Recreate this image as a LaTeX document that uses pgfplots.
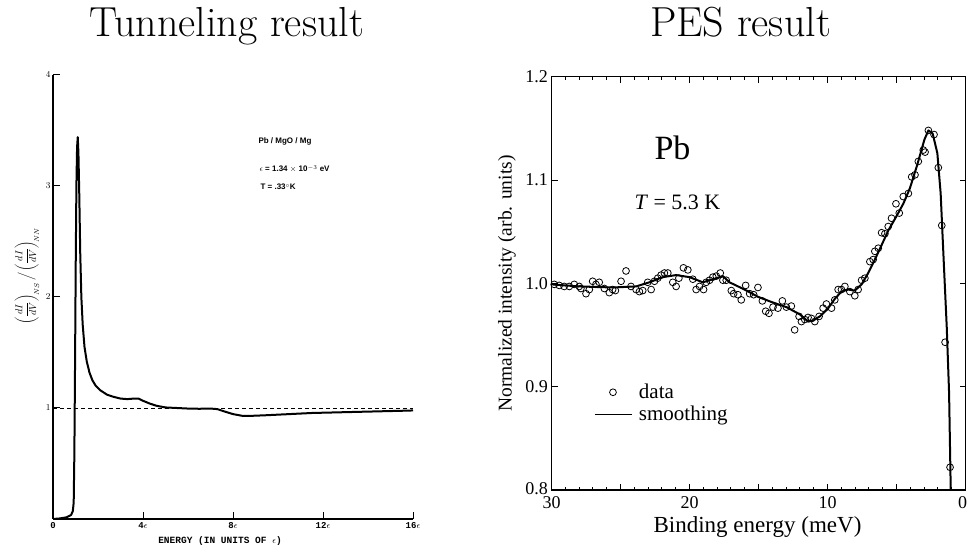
\documentclass[border=0pt]{standalone}
\usepackage{pgfplots}
\pgfplotsset{compat=1.18}
\usepackage{fontspec}
\newfontfamily\tms{Liberation Serif}
\newfontfamily\mono{Liberation Mono}
\newfontfamily\sans{Liberation Sans}
\pgfplotsset{
  markleg/.style={legend image code/.code={\draw[##1] plot coordinates {(18pt,0pt)};}},
  lineleg/.style={legend image code/.code={\draw[##1, line width=1pt] (0pt,0pt) -- (37pt,0pt);}},
}
\begin{document}
\begin{tikzpicture}[x=1pt,y=1pt]
% titles
\node[anchor=base, font=\fontsize{42}{46}\selectfont] at (226.7,511.5) {Tunneling result};
\node[anchor=base, font=\fontsize{42}{46}\selectfont] at (740.5,511.5) {PES result};

% ---------------- left panel ----------------
\begin{axis}[
  at={(53pt,29pt)}, anchor=south west,
  scale only axis, width=360pt, height=444pt,
  xmin=0, xmax=16, ymin=0, ymax=4,
  axis lines=left, axis line style={-, line width=1.3pt},
  xtick={0,4,8,12,16},
  xticklabels={0,4$\epsilon$,8$\epsilon$,12$\epsilon$,16$\epsilon$},
  ytick={1,2,3,4},
  tick align=inside, major tick length=7pt,
  tick style={line width=1pt, black},
  tick label style={font=\mono\bfseries\fontsize{9}{10}\selectfont},
  yticklabel style={xshift=1pt},
  clip=false,
]
\addplot[black, line width=0.8pt, dash pattern=on 4pt off 3pt] coordinates {(0,1) (16,1)};
\addplot[black, line width=2pt, line join=round] table {
0     0.000
0.3   0.005
0.6   0.015
0.8   0.035
0.88  0.07
0.92  0.15
0.95  0.6
0.98  1.4
1.01  2.3
1.04  3.0
1.07  3.35
1.10  3.44
1.13  3.30
1.17  2.90
1.21  2.40
1.26  2.00
1.32  1.75
1.40  1.55
1.50  1.42
1.62  1.32
1.75  1.25
1.90  1.20
2.10  1.16
2.40  1.12
2.70  1.10
3.00  1.085
3.30  1.08
3.60  1.085
3.80  1.085
4.00  1.065
4.30  1.04
4.60  1.02
5.00  1.005
5.50  1.00
6.00  0.995
6.50  0.993
7.00  0.995
7.30  0.99
7.60  0.97
8.00  0.945
8.40  0.93
8.90  0.93
9.50  0.935
10.5  0.945
11.5  0.955
12.5  0.96
13.5  0.965
14.5  0.97
15.5  0.975
16.0  0.978
};
\end{axis}
\node[anchor=base, font=\mono\bfseries\fontsize{9.5}{10}\selectfont] at (220,4) {ENERGY (IN UNITS OF $\epsilon$)};
\node[rotate=90, font=\sans\bfseries\fontsize{10}{12}\selectfont] at (27,272)
  {$\displaystyle\left(\frac{dI}{dV}\right)_{\!NS}\Big/\left(\frac{dI}{dV}\right)_{\!NN}$};
\node[anchor=base west, font=\sans\bfseries\fontsize{8}{9}\selectfont] at (255,404) {Pb / MgO / Mg};
\node[anchor=base west, font=\sans\bfseries\fontsize{8}{9}\selectfont] at (256,376) {$\epsilon$ = 1.34 $\times$ 10$^{-3}$ eV};
\node[anchor=base west, font=\sans\bfseries\fontsize{8}{9}\selectfont] at (257,358) {T = .33$^\circ$K};

% ---------------- right panel ----------------
\begin{axis}[
  at={(551.5pt,58pt)}, anchor=south west,
  scale only axis, width=414pt, height=413.3pt,
  xmin=0, xmax=30, x dir=reverse, ymin=0.8, ymax=1.2,
  xtick={0,10,20,30}, xticklabels={{\makebox[0pt]{\hspace{-6pt}0}},10,20,30},
  extra x ticks={5,15,25}, extra x tick labels={},
  minor xtick={1,2,...,29},
  ytick={0.8,0.9,1.0,1.1,1.2}, yticklabels={{\raisebox{2.5pt}{0.8}},0.9,1.0,1.1,1.2},
  tick align=inside, major tick length=6pt, minor tick length=3pt,
  tick style={line width=1pt, black},
  tick label style={font=\tms\fontsize{18}{20}\selectfont},
  xticklabel style={yshift=-3pt},
  axis line style={line width=1.3pt},
  legend style={draw=none, fill=none, at={(axis cs:26.9,0.9040)}, anchor=north west,
    inner sep=0pt, row sep=3pt, font=\tms\fontsize{21}{23}\selectfont,
    nodes={inner sep=1.5pt},
    /tikz/every odd column/.append style={column sep=5pt}},
  legend cell align=left,
]
\addplot[only marks, mark=o, mark size=3.4pt, mark options={line width=0.8pt, black}, markleg] table {
29.80 0.999
29.44 0.998
29.08 0.997
28.71 0.997
28.35 0.999
27.99 0.997
27.87 0.995
27.50 0.990
27.26 0.994
27.02 1.002
26.78 0.999
26.54 1.001
26.17 0.995
25.81 0.991
25.57 0.994
25.37 0.993
24.96 1.002
24.60 1.012
24.24 0.997
23.87 0.994
23.63 0.992
23.39 0.993
23.03 1.001
22.78 0.994
22.54 1.002
22.30 1.005
22.06 1.008
21.82 1.010
21.57 1.010
21.21 1.001
20.97 0.997
20.77 1.005
20.44 1.015
20.12 1.013
19.76 1.004
19.52 0.994
19.27 0.997
18.98 0.994
18.79 1.001
18.55 1.003
18.31 1.006
18.06 1.007
17.77 1.010
17.58 1.003
17.34 1.003
16.97 0.993
16.80 0.990
16.49 0.989
16.25 0.984
15.93 0.998
15.64 0.990
15.35 0.989
15.04 0.996
14.72 0.983
14.48 0.973
14.24 0.971
13.95 0.977
13.59 0.976
13.27 0.983
12.98 0.977
12.62 0.978
12.38 0.955
12.06 0.968
11.89 0.963
11.65 0.965
11.41 0.967
11.16 0.966
10.92 0.963
10.61 0.968
10.32 0.976
10.08 0.980
9.71 0.976
9.47 0.984
9.23 0.994
8.99 0.994
8.74 0.997
8.38 0.992
8.02 0.988
7.78 0.994
7.53 1.003
7.29 1.005
6.93 1.021
6.69 1.023
6.57 1.031
6.32 1.034
6.08 1.049
5.84 1.048
5.60 1.055
5.36 1.063
5.04 1.077
4.80 1.068
4.51 1.084
4.14 1.087
3.90 1.103
3.66 1.105
3.42 1.118
3.06 1.129
2.93 1.127
2.69 1.148
2.28 1.144
1.97 1.112
1.72 1.056
1.48 0.943
1.12 0.822
};
\addlegendentry{data}
\addplot[black, line width=2pt, line join=round, lineleg] table {
30.00 0.999
27.99 0.997
25.57 0.996
23.87 0.997
22.91 1.001
21.94 1.006
20.97 1.008
20.00 1.006
19.03 1.001
18.06 1.005
17.58 1.007
17.10 1.001
16.01 0.994
15.04 0.987
14.07 0.982
12.98 0.977
12.01 0.970
11.41 0.963
11.04 0.964
10.56 0.968
10.00 0.975
9.47 0.985
8.99 0.992
8.50 0.994
8.02 0.993
7.53 0.999
7.05 1.010
6.57 1.023
6.08 1.037
5.60 1.051
5.00 1.065
4.51 1.077
4.03 1.092
3.49 1.115
2.98 1.139
2.69 1.148
2.38 1.145
2.04 1.126
1.80 1.087
1.56 1.016
1.36 0.958
1.19 0.894
1.07 0.800
};
\addlegendentry{smoothing}
\end{axis}
\node[anchor=base, font=\tms\fontsize{23}{25}\selectfont] at (757.5,15) {Binding energy (meV)};
\node[rotate=90, font=\tms\fontsize{19.5}{21}\selectfont] at (507,264.5) {Normalized intensity (arb. units)};
\node[anchor=base west, font=\tms\fontsize{34}{36}\selectfont] at (651,388) {Pb};
\node[anchor=base west, font=\tms\fontsize{22}{24}\selectfont] at (631,338) {\textit{T} = 5.3 K};

\pgfresetboundingbox
\useasboundingbox (0,0) rectangle (968,548);
\end{tikzpicture}
\end{document}
